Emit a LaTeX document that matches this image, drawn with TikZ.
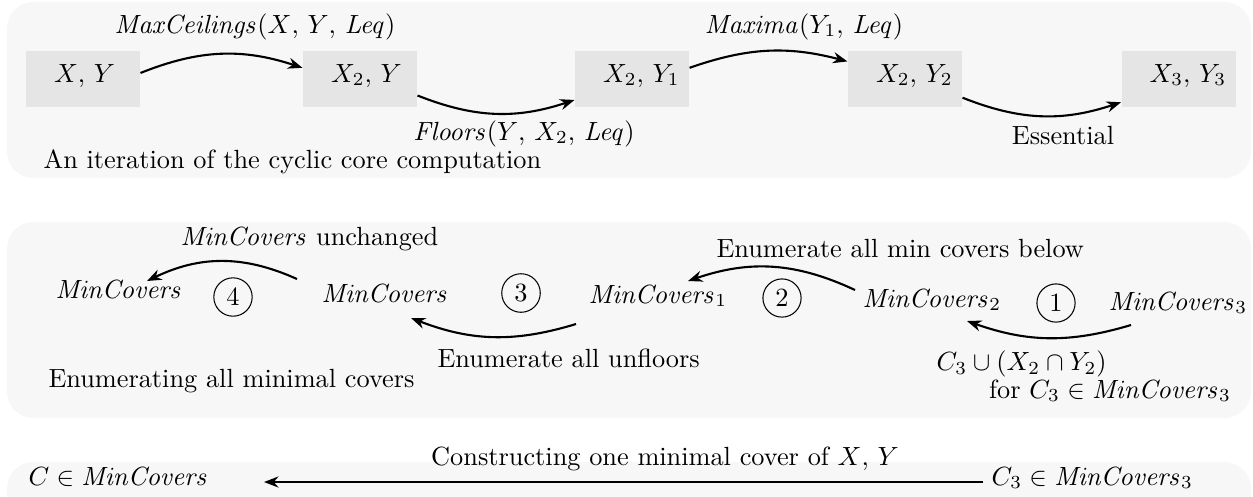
\documentclass[tikz,border=0pt]{standalone}
\usetikzlibrary{arrows.meta}
\newlength\pxu
\setlength\pxu{0.3802pt}
\begin{document}
\begin{tikzpicture}[x=0.3802pt,y=-0.3802pt,
  panel/.style={fill=black!3, rounded corners=10pt},
  box/.style={fill=black!10, minimum width=114\pxu, minimum height=56\pxu, text width=58\pxu, align=left, inner sep=0pt, text height=7pt, text depth=4.7pt},
  lbl/.style={inner sep=0pt, anchor=base west},
  num/.style={circle, draw, line width=0.4pt, inner sep=2.2pt},
  arr/.style={line width=0.8pt, -{Stealth[length=5.5pt, width=4.2pt]}}]
\useasboundingbox (0,0) rectangle (1253,496);
\clip (0,0) rectangle (1253,496);
\fill[panel] (7,2) rectangle (1251,178);
\fill[panel] (7,222) rectangle (1251,418);
\fill[panel] (7,462) rectangle (1251,530);
% row 1
\node[box] (xy) at (83,79) {$X{,}\ Y$};
\node[box] (x2y) at (360,79) {$X_2{,}\ Y$};
\node[box] (x2y1) at (632,79) {$X_2{,}\ Y_1$};
\node[box] (x2y2) at (905,79) {$X_2{,}\ Y_2$};
\node[box] (x3y3) at (1178.5,79) {$X_3{,}\ Y_3$};
\draw[arr] (xy.6) to[bend left=20] (x2y.169);
\draw[arr] (x2y.344) to[bend right=20] (x2y1.200);
\draw[arr] (x2y1.11) to[bend left=17] (x2y2.163);
\draw[arr] (x2y2.342) to[bend right=20] (x3y3.202);
\node[lbl, anchor=base] (l1) at (255,33) {$\mathit{MaxCeilings}(X{,}\ Y{,}\ \mathit{Leq})$};
\node[lbl, anchor=base] (l2) at (524,140) {$\mathit{Floors}(Y{,}\ X_2{,}\ \mathit{Leq})$};
\node[lbl, anchor=base] (l3) at (804,33) {$\mathit{Maxima}(Y_1{,}\ \mathit{Leq})$};
\node[lbl, anchor=base] (l4) at (1063,144) {Essential};
\node[lbl] (cap1) at (43,168) {An iteration of the cyclic core computation};
% row 2
\node[lbl] (m4) at (55,298) {$\mathit{MinCovers}$};
\node[lbl] (m) at (321,302) {$\mathit{MinCovers}$};
\node[lbl] (m1) at (588,303) {$\mathit{MinCovers}_1$};
\node[lbl] (m2) at (862,307) {$\mathit{MinCovers}_2$};
\node[lbl] (m3) at (1108,310) {$\mathit{MinCovers}_3$};
\node[num] (c4) at (233,297) {4};
\node[num] (c3) at (521,293) {3};
\node[num] (c2) at (782,298) {2};
\node[num] (c1) at (1056,303) {1};
\draw[arr] ([shift={(-24,-23)}]m.base west) to[bend right=25] ([shift={(92,-17)}]m4.base west);
\draw[arr] ([shift={(-12,21)}]m1.base west) to[bend left=19] ([shift={(90,16)}]m.base west);
\draw[arr] ([shift={(-7,-17)}]m2.base west) to[bend right=22] ([shift={(100,-22)}]m1.base west);
\draw[arr] ([shift={(23,15)}]m3.base west) to[bend left=18] ([shift={(105,14)}]m2.base west);
\node[lbl] (u4) at (180,245) {$\mathit{MinCovers}$ unchanged};
\node[lbl] (u3) at (437,367) {Enumerate all unfloors};
\node[lbl] (u2) at (716,257) {Enumerate all min covers below};
\node[lbl, align=left] (u1) at (936,398) {$C_3 \cup (X_2 \cap Y_2)$\\[-1.4pt]\qquad for $C_3 \in \mathit{MinCovers}_3$};
\node[lbl] (cap2) at (48,387) {Enumerating all minimal covers};
% row 3
\node[lbl] (c) at (28,485) {$C \in \mathit{MinCovers}$};
\node[lbl] (c3m) at (991,485) {$C_3 \in \mathit{MinCovers}_3$};
\draw[arr] ([shift={(-8,-3)}]c3m.base west) -- ([shift={(236,-3)}]c.base west);
\node[lbl, anchor=base] (cap3) at (665,465) {Constructing one minimal cover of $X{,}\ Y$};
\end{tikzpicture}
\end{document}
